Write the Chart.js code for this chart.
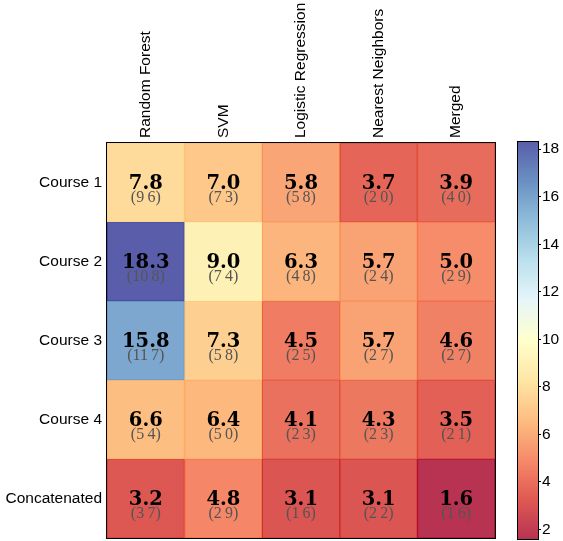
<!DOCTYPE html>
<html>
<head>
<meta charset="utf-8">
<script src="https://cdn.jsdelivr.net/npm/chart.js@4/dist/chart.umd.min.js"></script>
<style>
  html, body { margin: 0; padding: 0; background: #fff; }
  #wrap { position: relative; width: 563px; height: 541px; }
  #heat { position: absolute; left: 0; top: 0; }
  #cbar { position: absolute; left: 505px; top: 0; }
</style>
</head>
<body>
<div id="wrap">
  <canvas id="heat" width="505" height="541"></canvas>
  <canvas id="cbar" width="58" height="541"></canvas>
</div>
<script>
// Classifiers (columns) and feature sets (rows)
const methods = ['Random Forest', 'SVM', 'Logistic Regression', 'Nearest Neighbors', 'Merged'];
const groups = ['Course 1', 'Course 2', 'Course 3', 'Course 4', 'Concatenated'];

// Main score per cell, one array per row
const course1 = [7.8, 7.0, 5.8, 3.7, 3.9];
const course2 = [18.3, 9.0, 6.3, 5.7, 5.0];
const course3 = [15.8, 7.3, 4.5, 5.7, 4.6];
const course4 = [6.6, 6.4, 4.1, 4.3, 3.5];
const concatenated = [3.2, 4.8, 3.1, 3.1, 1.6];
const scores = [course1, course2, course3, course4, concatenated];

// Bracketed secondary value per cell
const course1Spread = [9.6, 7.3, 5.8, 2.0, 4.0];
const course2Spread = [10.8, 7.4, 4.8, 2.4, 2.9];
const course3Spread = [11.7, 5.8, 2.5, 2.7, 2.7];
const course4Spread = [5.4, 5.0, 2.3, 2.3, 2.1];
const concatenatedSpread = [3.7, 2.9, 1.6, 2.2, 1.6];
const spreads = [course1Spread, course2Spread, course3Spread, course4Spread, concatenatedSpread];

// Colour scale range and colour bar tick labels
const colorMin = 1.6;
const colorMax = 18.3;
const colorbarTicks = [2, 4, 6, 8, 10, 12, 14, 16, 18];

// RdYlBu colour map stops
const RDYLBU = [
  [165, 0, 38], [215, 48, 39], [244, 109, 67], [253, 174, 97], [254, 224, 144],
  [255, 255, 191], [224, 243, 248], [171, 217, 233], [116, 173, 209], [69, 117, 180], [49, 54, 149]
];
const FILL_ALPHA = 0.8;
const COLUMN_FONT = '15.5px "Liberation Sans"';

function rgba(c, a) {
  return `rgba(${Math.round(c[0])},${Math.round(c[1])},${Math.round(c[2])},${a})`;
}
function colorFor(v, a) {
  let t = (v - colorMin) / (colorMax - colorMin);
  t = Math.max(0, Math.min(1, t));
  const p = t * (RDYLBU.length - 1);
  const i = Math.min(Math.floor(p), RDYLBU.length - 2);
  const f = p - i;
  const c0 = RDYLBU[i], c1 = RDYLBU[i + 1];
  return rgba([0, 1, 2].map(k => c0[k] + (c1[k] - c0[k]) * f), a);
}

// Writes the two values into each cell, the vertical column names, and frames the grid
const cellText = {
  id: 'cellText',
  afterDatasetsDraw(chart) {
    const ctx = chart.ctx;
    chart.data.datasets.forEach((ds, i) => {
      chart.getDatasetMeta(i).data.forEach((el, j) => {
        const cx = el.x;
        const cy = (el.y + el.base) / 2;
        ctx.save();
        ctx.textAlign = 'center';
        ctx.fillStyle = '#000';
        ctx.font = 'bold 19.5px "DejaVu Serif"';
        ctx.textBaseline = 'alphabetic';
        ctx.fillText(scores[i][j].toFixed(1), cx, cy + 6);
        ctx.font = '16px "Liberation Serif"';
        ctx.fillStyle = '#555';
        ctx.textBaseline = 'middle';
        ctx.fillText('(' + spreads[i][j].toFixed(1).replace('.', '\u2009') + ')', cx, cy + 15);
        ctx.restore();
      });
    });
    const a = chart.chartArea;
    const xs = chart.scales.x;
    ctx.save();
    ctx.font = COLUMN_FONT;
    ctx.fillStyle = '#000';
    ctx.textAlign = 'left';
    ctx.textBaseline = 'middle';
    methods.forEach((m, j) => {
      ctx.save();
      ctx.translate(xs.getPixelForTick(j), a.top - 5);
      ctx.rotate(-Math.PI / 2);
      ctx.fillText(m, 0, 0);
      ctx.restore();
    });
    ctx.strokeStyle = '#000';
    ctx.lineWidth = 1;
    ctx.strokeRect(a.left - 0.5, a.top - 0.5, a.right - a.left + 1, a.bottom - a.top + 1);
    ctx.restore();
  }
};

new Chart(document.getElementById('heat'), {
  type: 'bar',
  data: {
    labels: methods,
    datasets: groups.map((g, i) => ({
      label: g,
      data: methods.map(() => [i, i + 1]),
      backgroundColor: scores[i].map(v => colorFor(v, FILL_ALPHA)),
      borderColor: scores[i].map(v => colorFor(v, 0.95)),
      borderWidth: 0.5,
      borderSkipped: false,
      grouped: false,
      categoryPercentage: 1,
      barPercentage: 1
    }))
  },
  options: {
    responsive: false,
    animation: false,
    devicePixelRatio: 1,
    layout: { padding: { left: 0, top: 0, right: 10, bottom: 3 } },
    scales: {
      x: {
        type: 'category',
        position: 'top',
        grid: { display: false, drawTicks: false, tickLength: 0 },
        border: { display: false },
        ticks: { display: false },
        afterFit(s) { s.height = 143; s.paddingLeft = 0; s.paddingRight = 0; }
      },
      y: {
        type: 'linear',
        min: 0, max: groups.length,
        reverse: true,
        grid: { display: false, drawTicks: false, tickLength: 0 },
        border: { display: false },
        afterBuildTicks(ax) { ax.ticks = groups.map((g, i) => ({ value: i + 0.5 })); },
        ticks: {
          padding: 5,
          color: '#000', font: { family: 'Liberation Sans', size: 15.5 },
          callback: v => groups[Math.floor(v)]
        },
        afterFit(s) { s.width = 107; s.paddingTop = 0; s.paddingBottom = 0; }
      }
    },
    plugins: { legend: { display: false }, tooltip: { enabled: false } }
  },
  plugins: [cellText]
});

// Colour bar: one floating bar spanning the scale, filled with the colour map
const outline = {
  id: 'outline',
  afterDatasetsDraw(chart) {
    const a = chart.chartArea;
    const ctx = chart.ctx;
    ctx.save();
    ctx.strokeStyle = '#000';
    ctx.lineWidth = 1;
    ctx.strokeRect(a.left - 0.5, a.top - 0.5, a.right - a.left + 1, a.bottom - a.top + 1);
    ctx.restore();
  }
};

new Chart(document.getElementById('cbar'), {
  type: 'bar',
  data: {
    labels: [''],
    datasets: [{
      data: [[colorMin, colorMax]],
      backgroundColor(c) {
        const chart = c.chart;
        if (!chart.chartArea) return 'rgba(0,0,0,0)';
        const y = chart.scales.y;
        const g = chart.ctx.createLinearGradient(0, y.getPixelForValue(colorMin), 0, y.getPixelForValue(colorMax));
        RDYLBU.forEach((s, k) => g.addColorStop(k / (RDYLBU.length - 1), rgba(s, FILL_ALPHA)));
        return g;
      },
      borderWidth: 0,
      categoryPercentage: 1,
      barPercentage: 1
    }]
  },
  options: {
    responsive: false,
    animation: false,
    devicePixelRatio: 1,
    layout: { padding: { left: 13, top: 142, right: 0, bottom: 2 } },
    scales: {
      x: { display: false },
      y: {
        position: 'right',
        min: colorMin, max: colorMax,
        afterBuildTicks(ax) { ax.ticks = colorbarTicks.map(v => ({ value: v })); },
        grid: { drawOnChartArea: false, tickLength: 3, color: '#000' },
        border: { display: false },
        ticks: { padding: 1, color: '#000', font: { family: 'Liberation Sans', size: 15.5 } },
        afterFit(s) { s.width = 25; s.paddingTop = 0; s.paddingBottom = 0; }
      }
    },
    plugins: { legend: { display: false }, tooltip: { enabled: false } }
  },
  plugins: [outline]
});
</script>
</body>
</html>
